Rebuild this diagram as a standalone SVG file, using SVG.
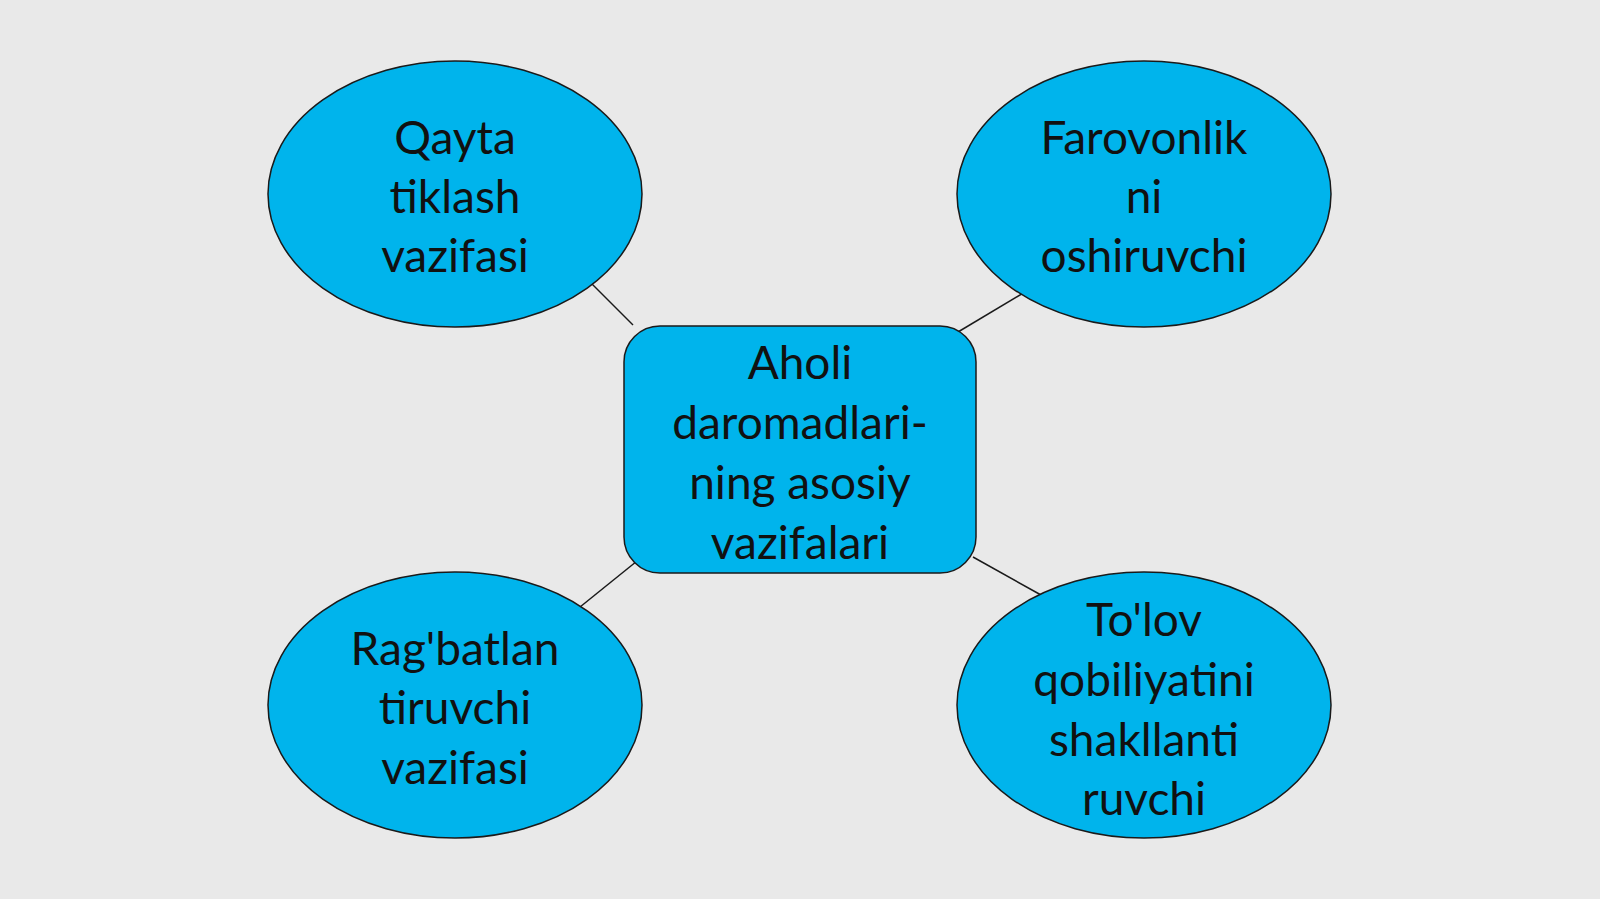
<svg xmlns="http://www.w3.org/2000/svg" width="1600" height="899" viewBox="0 0 1600 899">
<style>
.node{fill:#00b4ec;stroke:#1a1a1a;stroke-width:1.5}
.lbl{font-family:Lato,"Open Sans","Liberation Sans",sans-serif;font-size:46px;fill:#111;text-anchor:middle}
.conn{stroke:#1a1a1a;stroke-width:1.5;fill:none}
</style>
<rect width="1600" height="899" fill="#e9e9e9"/>
<g id="connectors">
<line class="conn" x1="590" y1="282" x2="633" y2="325"/>
<line class="conn" x1="1025" y1="292" x2="958" y2="332"/>
<line class="conn" x1="642" y1="557" x2="580" y2="607"/>
<line class="conn" x1="973" y1="557" x2="1041" y2="595"/>
</g>
<g id="center">
<rect class="node" x="624" y="326" width="352" height="247" rx="36"/>
<text class="lbl" x="800" y="379">Aholi</text>
<text class="lbl" x="800" y="439">daromadlari-</text>
<text class="lbl" x="800" y="499">ning asosiy</text>
<text class="lbl" x="800" y="559">vazifalari</text>
</g>
<g id="qayta">
<ellipse class="node" cx="455" cy="194" rx="187" ry="133"/>
<text class="lbl" x="455" y="154">Qayta</text>
<text class="lbl" x="455" y="213">tiklash</text>
<text class="lbl" x="455" y="272">vazifasi</text>
</g>
<g id="farovonlik">
<ellipse class="node" cx="1144" cy="194" rx="187" ry="133"/>
<text class="lbl" x="1144" y="154">Farovonlik</text>
<text class="lbl" x="1144" y="213">ni</text>
<text class="lbl" x="1144" y="272">oshiruvchi</text>
</g>
<g id="ragbatlan">
<ellipse class="node" cx="455" cy="705" rx="187" ry="133"/>
<text class="lbl" x="455" y="665">Rag'batlan</text>
<text class="lbl" x="455" y="724">tiruvchi</text>
<text class="lbl" x="455" y="784">vazifasi</text>
</g>
<g id="tolov">
<ellipse class="node" cx="1144" cy="705" rx="187" ry="133"/>
<text class="lbl" x="1144" y="636">To'lov</text>
<text class="lbl" x="1144" y="696">qobiliyatini</text>
<text class="lbl" x="1144" y="756">shakllanti</text>
<text class="lbl" x="1144" y="815">ruvchi</text>
</g>
</svg>
